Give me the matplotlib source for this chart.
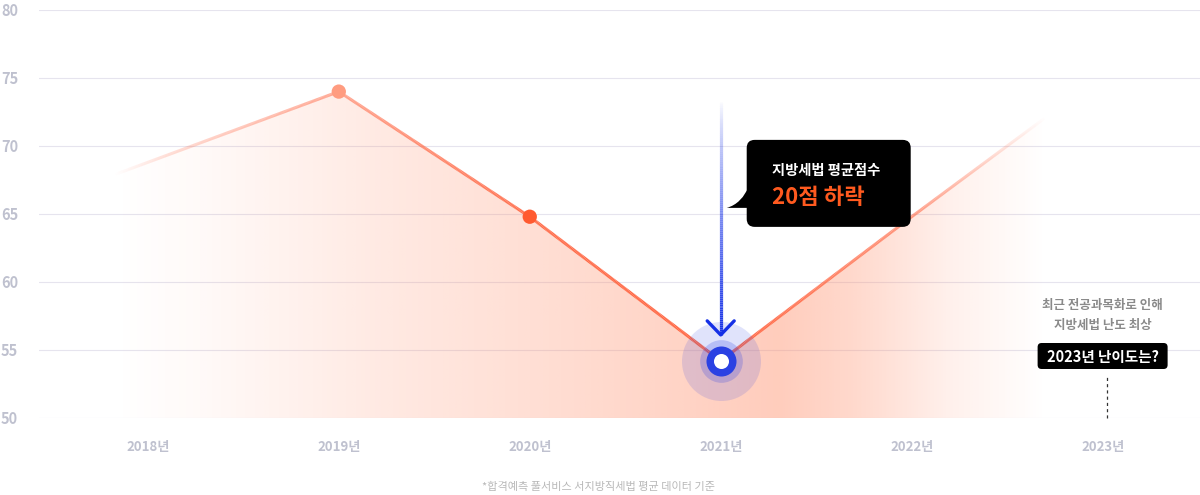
import numpy as np
import matplotlib
matplotlib.use("Agg")
import matplotlib.pyplot as plt
from matplotlib.collections import LineCollection
from matplotlib.lines import Line2D
from matplotlib.patches import FancyBboxPatch, PathPatch, Polygon
from matplotlib.path import Path
from matplotlib.transforms import IdentityTransform
from matplotlib.colors import to_rgb

plt.rcParams['font.family'] = ['Noto Sans CJK KR', 'DejaVu Sans']

# --- data ---
years = ["2018년", "2019년", "2020년", "2021년", "2022년", "2023년"]
scores = [68.8, 74.0, 64.8, 54.2, 64.8]      # 지방세법 평균점수 2018-2022
trend_2023 = 75.2                            # faded continuation toward 2023
marker_idx = [1, 2]
marker_colors = ["#FF9C80", "#FF5A30"]
yticks = [50, 55, 60, 65, 70, 75, 80]
callout_title = "지방세법 평균점수"
callout_value = "20점 하락"
note_lines = ["최근 전공과목화로 인해", "지방세법 난도 최상"]
note_tag = "2023년 난이도는?"
footnote = "*합격예측 풀서비스 서지방직세법 평균 데이터 기준"

W, H = 1200, 495
PX = IdentityTransform()
fig = plt.figure(figsize=(W / 100, H / 100), dpi=100)
ax = fig.add_axes([39 / W, 77 / H, 1 - 39 / W, 408 / H])
X0, X1 = -0.57, 5.51

# line runs a little past 2018 on the same slope, then fades out
lead = -0.17
xs = [lead] + list(range(6))
ys_line = [scores[0] + lead * (scores[1] - scores[0])] + scores + [trend_2023]
xf = np.linspace(lead, 5, 900)
yf = np.interp(xf, xs, ys_line)

# gradient area under the line
clip = Polygon(list(zip(xf, yf)) + [(5, 50), (lead, 50)], closed=True, transform=ax.transData)
gx = np.linspace(X0, X1, 900)
fa = np.interp(gx, [lead, 0.3, 1.2, 2.2, 2.9, 3.3, 3.7, 4.2, 4.7],
               [0, .05, .19, .31, .40, .45, .34, .13, 0])
img = np.zeros((2, gx.size, 4))
img[..., :3] = to_rgb("#FF8F6B")
img[..., 3] = fa
im = ax.imshow(img, extent=[X0, X1, 50, 80], aspect="auto", origin="lower",
               interpolation="bilinear", zorder=1)
im.set_clip_path(clip)

# line with fading ends
segs = np.stack([np.column_stack([xf[:-1], yf[:-1]]), np.column_stack([xf[1:], yf[1:]])], axis=1)
xm = (xf[:-1] + xf[1:]) / 2
la = np.interp(xm, [lead, 0.1, 1, 2, 3, 4, 4.45, 4.7], [0, .2, .55, .92, 1, .62, .2, 0])
cols = np.zeros((xm.size, 4))
cols[:, :3] = to_rgb("#FF6440")
cols[:, 3] = la
ax.add_collection(LineCollection(segs, colors=cols, linewidths=2.2, capstyle="butt", zorder=3))
ax.scatter(marker_idx, [scores[i] for i in marker_idx], s=106, c=marker_colors, lw=0, zorder=4)

# 2021 highlight
low = 3
ax.scatter([low], [scores[low]], s=3237, color="#283CE6", alpha=0.14, lw=0, zorder=5)
ax.scatter([low], [scores[low]], s=945, color="#283CE6", alpha=0.22, lw=0, zorder=5)
ax.scatter([low], [scores[low]], s=467, color="#2A41E3", lw=0, zorder=6)
ax.scatter([low], [scores[low]], s=117, color="white", lw=0, zorder=7)

ax.set_xlim(X0, X1)
ax.set_ylim(50, 80)
ax.set_yticks(yticks)
ax.set_yticklabels([str(v) for v in yticks], fontsize=10.5, fontweight="bold")
ax.set_xticks(range(len(years)))
ax.set_xticklabels(years, fontsize=9.5, fontweight="bold")
ax.tick_params(axis="y", length=0, pad=15, labelcolor="#BFC1CF")
ax.tick_params(axis="x", length=0, pad=16, labelcolor="#BFC1CF")
ax.grid(axis="y", color="#E6E4EE", lw=0.8, zorder=0)
ax.set_axisbelow(True)
for s in ax.spines.values():
    s.set_visible(False)

# overlays in pixel space, anchored on data points
axp, ayp = ax.transData.transform((low, scores[low]))
n = 120
ys = np.linspace(ayp + 26, ayp + 261, n + 1)
bsegs = [[(axp, ys[i]), (axp, ys[i + 1])] for i in range(n)]
bcols = np.zeros((n, 4))
bcols[:, :3] = to_rgb("#1530E6")
bcols[:, 3] = np.linspace(1, 0, n) ** 0.8
fig.add_artist(LineCollection(bsegs, colors=bcols, linewidths=2.3, transform=PX, zorder=10))
fig.add_artist(Line2D([axp - 13.5, axp, axp + 13.5], [ayp + 40, ayp + 26, ayp + 40], transform=PX,
                      color="#1530E6", lw=2.4, solid_capstyle="round", solid_joinstyle="round", zorder=10))

fig.add_artist(FancyBboxPatch((axp + 26, ayp + 134), 164, 87, boxstyle="round,pad=0,rounding_size=8",
                              transform=PX, fc="black", ec="none", zorder=11))
tail = Path([(axp + 29, ayp + 176), (axp + 21, ayp + 157), (axp + 6, ayp + 153), (axp + 29, ayp + 153),
             (axp + 29, ayp + 176)],
            [Path.MOVETO, Path.CURVE3, Path.CURVE3, Path.LINETO, Path.CLOSEPOLY])
fig.add_artist(PathPatch(tail, transform=PX, fc="black", ec="none", zorder=11))
fig.text(axp + 51, ayp + 190, callout_title, transform=PX, color="white", fontsize=10.3,
         fontweight="bold", ha="left", va="center", zorder=12)
fig.text(axp + 51, ayp + 163, callout_value, transform=PX, color="#FF5A1F", fontsize=16,
         fontweight="bold", ha="left", va="center", zorder=12)

# 2023 note
x5, y50 = ax.transData.transform((5, 50))
for k, t in enumerate(note_lines):
    fig.text(x5, y50 + 113 - 20 * k, t, transform=PX, color="#8A8A8A", fontsize=9,
             fontweight="bold", ha="center", va="center", zorder=12)
fig.add_artist(FancyBboxPatch((x5 - 65, y50 + 49), 130, 26, boxstyle="round,pad=0,rounding_size=4",
                              transform=PX, fc="black", ec="none", zorder=11))
fig.text(x5, y50 + 61, note_tag, transform=PX, color="white", fontsize=10.5,
         fontweight="bold", ha="center", va="center", zorder=12)
fig.add_artist(Line2D([x5 + 4, x5 + 4], [y50, y50 + 43], transform=PX, color="#333333",
                      lw=0.9, linestyle=(0, (2.5, 2.5)), zorder=11))

fig.text(598 / W, 1 - 487 / H, footnote, color="#B8B8B8", fontsize=8, ha="center", va="center")

fig.savefig("out.png", dpi=100)
